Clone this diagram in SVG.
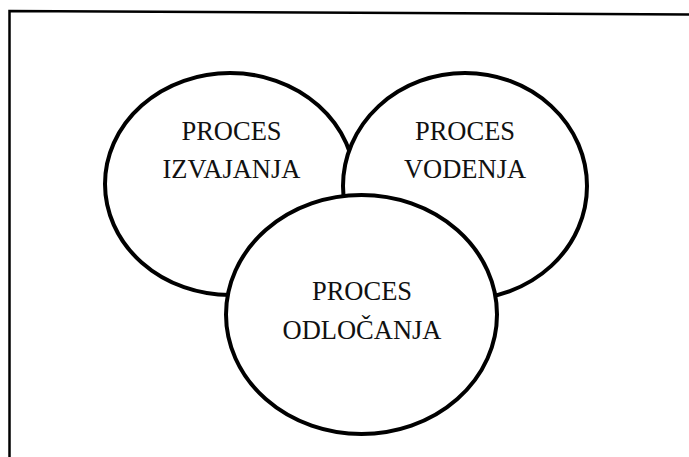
<svg xmlns="http://www.w3.org/2000/svg" width="689" height="457" viewBox="0 0 689 457">
  <style>
    .frame { fill: none; stroke: #000; stroke-width: 2.5; }
    .shape { fill: #fff; stroke: #000; stroke-width: 4; }
    .label { font-family: "Liberation Serif", "Times New Roman", serif; font-size: 26.5px; fill: #111; text-anchor: middle; }
  </style>
  <rect width="689" height="457" fill="#fff"/>
  <polyline class="frame" points="9.5,457 9.5,11 689,14.5"/>
  <g id="connectors"/>
  <g id="izvajanja">
    <ellipse class="shape" cx="230" cy="184" rx="125" ry="111"/>
    <text class="label" x="231.5" y="140">PROCES</text>
    <text class="label" x="231.5" y="178">IZVAJANJA</text>
  </g>
  <g id="vodenja">
    <ellipse class="shape" cx="465" cy="186" rx="122" ry="113"/>
    <text class="label" x="465" y="140">PROCES</text>
    <text class="label" x="465" y="178">VODENJA</text>
  </g>
  <g id="odlocanja">
    <ellipse class="shape" cx="361.5" cy="314.5" rx="135.5" ry="119.5"/>
    <text class="label" x="362" y="300">PROCES</text>
    <text class="label" x="362" y="339">ODLOČANJA</text>
  </g>
</svg>
